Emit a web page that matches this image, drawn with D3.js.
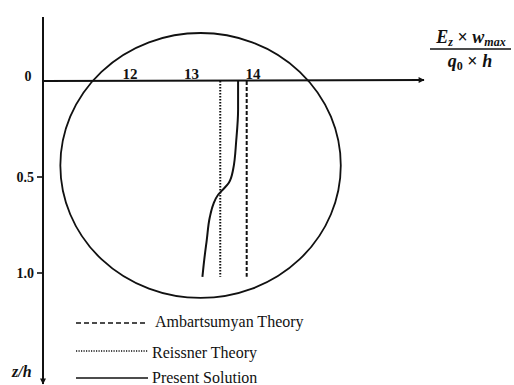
<!DOCTYPE html>
<html>
<head>
<meta charset="utf-8">
<script src="https://cdn.jsdelivr.net/npm/d3@7/dist/d3.min.js"></script>
<style>
  html, body { margin: 0; padding: 0; background: #fff; }
  svg { display: block; }
</style>
</head>
<body>
<svg id="chart" width="514" height="385" font-family="'Liberation Serif', 'Times New Roman', 'DejaVu Serif', serif"></svg>
<script>
// Normalised deflection E_z*w_max/(q0*h) through the thickness z/h
const xTicks = [12, 13, 14];
const yTicks = [0, 0.5, 1.0];
const yTickLabels = ["0", "0.5", "1.0"];

const zAmbartsumyan = [0, 1.02];
const wAmbartsumyan = [13.93, 13.93];

const zReissner = [0, 1.02];
const wReissner = [13.50, 13.50];

const zPresent = [0, 0.15, 0.31, 0.46, 0.53, 0.57, 0.595, 0.64, 0.71, 0.83, 0.93, 1.02];
const wPresent = [13.79, 13.79, 13.76, 13.71, 13.64, 13.53, 13.46, 13.39, 13.33, 13.28, 13.24, 13.21];

// highlight ellipse around the curves (data units)
const ringCenter = [13.18, 0.44];
const ringRadii = [2.28, 0.69];

const legendNames = ["Ambartsumyan Theory", "Reissner Theory", "Present Solution"];
const legendDash = ["5,3", "1.2,1.3", null];

const svg = d3.select("#chart");

const x = d3.scaleLinear().domain([12, 14]).range([128, 251]);
const y = d3.scaleLinear().domain([0, 1]).range([81, 273]);

const ink = "#111";

// arrow marker
const defs = svg.append("defs");
defs.append("marker")
  .attr("id", "arrow")
  .attr("viewBox", "0 0 10 10")
  .attr("refX", 9).attr("refY", 5)
  .attr("markerWidth", 7).attr("markerHeight", 6)
  .attr("markerUnits", "userSpaceOnUse")
  .attr("orient", "auto")
  .append("path").attr("d", "M0,0 L10,5 L0,10 z").attr("fill", ink);

const x0 = 43;

// vertical axis z/h pointing down
svg.append("line")
  .attr("x1", x0).attr("y1", 17).attr("x2", x0).attr("y2", 384)
  .attr("stroke", ink).attr("stroke-width", 2)
  .attr("marker-end", "url(#arrow)");

// horizontal axis pointing right
svg.append("line")
  .attr("x1", x0).attr("y1", y(0)).attr("x2", 424).attr("y2", y(0) - 1)
  .attr("stroke", ink).attr("stroke-width", 2)
  .attr("marker-end", "url(#arrow)");

// y ticks
const yAxis = svg.append("g").attr("fill", ink);
yTicks.forEach((t, i) => {
  if (t !== 0) {
    yAxis.append("line")
      .attr("x1", x0 - 6).attr("x2", x0).attr("y1", y(t)).attr("y2", y(t))
      .attr("stroke", ink).attr("stroke-width", 1.6);
  }
  yAxis.append("text")
    .attr("x", t === 0 ? 28 : x0 - 9)
    .attr("y", t === 0 ? y(t) : y(t) + 5)
    .attr("text-anchor", t === 0 ? "middle" : "end")
    .attr("font-size", 14).attr("font-weight", "bold")
    .text(yTickLabels[i]);
});

// x tick labels above the axis
svg.append("g").attr("fill", ink).selectAll("text").data(xTicks).join("text")
  .attr("x", d => x(d) + 2)
  .attr("y", y(0) - 2)
  .attr("text-anchor", "middle")
  .attr("font-size", 15).attr("font-weight", "bold")
  .text(d => d);

// ellipse
svg.append("ellipse")
  .attr("cx", x(ringCenter[0])).attr("cy", y(ringCenter[1]))
  .attr("rx", x(ringCenter[0] + ringRadii[0]) - x(ringCenter[0]))
  .attr("ry", y(ringCenter[1] + ringRadii[1]) - y(ringCenter[1]))
  .attr("fill", "none").attr("stroke", ink).attr("stroke-width", 1.8);

const line = d3.line().x(d => x(d[0])).y(d => y(d[1]));

svg.append("path")
  .datum(d3.zip(wAmbartsumyan, zAmbartsumyan))
  .attr("d", line).attr("fill", "none")
  .attr("stroke", ink).attr("stroke-width", 2).attr("stroke-dasharray", "4,2");

svg.append("path")
  .datum(d3.zip(wReissner, zReissner))
  .attr("d", line).attr("fill", "none")
  .attr("stroke", ink).attr("stroke-width", 2).attr("stroke-dasharray", "1.5,1.5");

svg.append("path")
  .datum(d3.zip(wPresent, zPresent))
  .attr("d", line.curve(d3.curveMonotoneY)).attr("fill", "none")
  .attr("stroke", ink).attr("stroke-width", 2);

// legend
const legY = [323, 351, 378];
const legTextY = [327, 358, 383];
const legTextX = [155, 152, 152];
const leg = svg.append("g").attr("fill", ink);
legendNames.forEach((name, i) => {
  const ln = leg.append("line")
    .attr("x1", 76).attr("x2", 148).attr("y1", legY[i]).attr("y2", legY[i])
    .attr("stroke", ink).attr("stroke-width", i === 1 ? 1.3 : 1.6);
  if (legendDash[i]) ln.attr("stroke-dasharray", legendDash[i]);
  leg.append("text")
    .attr("x", legTextX[i]).attr("y", legTextY[i])
    .attr("font-size", 16)
    .text(name);
});

// axis titles
svg.append("text")
  .attr("x", 12).attr("y", 377).attr("fill", ink)
  .attr("font-size", 16).attr("font-weight", "bold").attr("font-style", "italic")
  .text("z/h");

const frac = svg.append("g").attr("fill", ink)
  .attr("font-size", 18).attr("font-weight", "bold").attr("font-style", "italic");
const num = frac.append("text").attr("x", 471).attr("y", 43).attr("text-anchor", "middle");
num.append("tspan").text("E");
num.append("tspan").attr("font-size", 12).attr("dy", 3).text("z");
num.append("tspan").attr("dy", -3).attr("font-style", "normal").text(" × ");
num.append("tspan").text("w");
num.append("tspan").attr("font-size", 12).attr("dy", 3).text("max");
frac.append("line")
  .attr("x1", 430).attr("x2", 511).attr("y1", 49).attr("y2", 49)
  .attr("stroke", ink).attr("stroke-width", 1.4);
const den = frac.append("text").attr("x", 470).attr("y", 67).attr("text-anchor", "middle");
den.append("tspan").text("q");
den.append("tspan").attr("font-size", 12).attr("dy", 3).attr("font-style", "normal").text("0");
den.append("tspan").attr("dy", -3).attr("font-style", "normal").text(" × ");
den.append("tspan").text("h");
</script>
</body>
</html>
